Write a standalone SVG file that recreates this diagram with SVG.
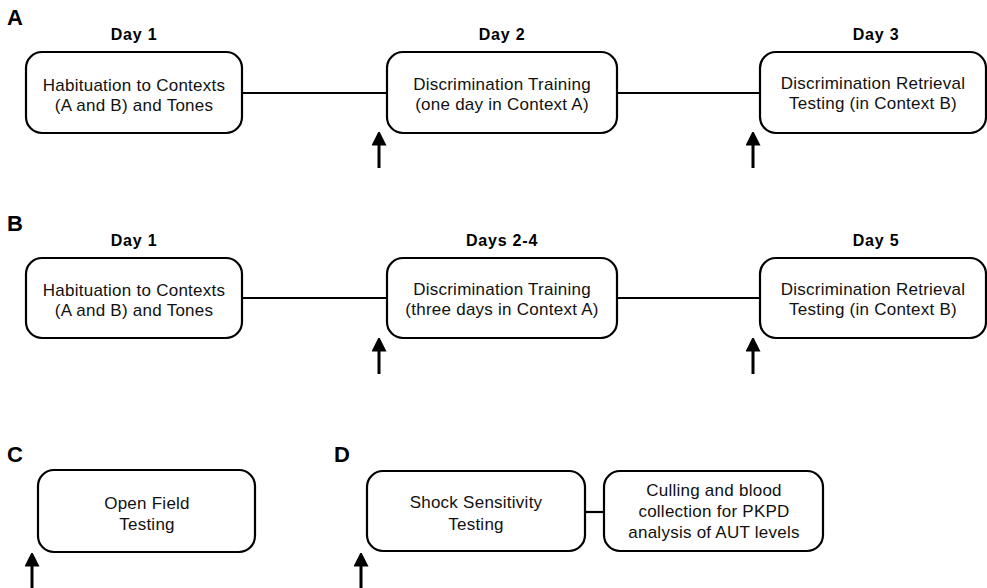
<svg xmlns="http://www.w3.org/2000/svg" width="987" height="588" viewBox="0 0 987 588">
<defs>
<style>
.box{fill:#fff;stroke:#000;stroke-width:2.2}
.ln{stroke:#000;stroke-width:2.2;fill:none}
.t{font-family:"Liberation Sans",Arial,sans-serif;font-size:17px;letter-spacing:0.25px;text-anchor:middle;fill:#111}
.d{font-family:"Liberation Sans",Arial,sans-serif;font-size:16px;letter-spacing:0.8px;font-weight:bold;text-anchor:middle;fill:#000}
.p{font-family:"Liberation Sans",Arial,sans-serif;font-size:22px;letter-spacing:0.5px;font-weight:bold;fill:#000}
.ar{stroke:#000;stroke-width:3;fill:none}
</style>
<marker id="ah" markerWidth="4.5" markerHeight="5" refX="0.5" refY="2.5" orient="auto" markerUnits="strokeWidth">
<path d="M0,0 L5,2.5 L0,5 Z" fill="#000"/>
</marker>
</defs>
<rect width="987" height="588" fill="#fff"/>

<text class="p" x="7" y="25">A</text>
<text class="p" x="7" y="231">B</text>
<text class="p" x="7" y="462">C</text>
<text class="p" x="334" y="462">D</text>

<text class="d" x="134" y="40">Day 1</text>
<text class="d" x="502" y="40">Day 2</text>
<text class="d" x="876" y="40">Day 3</text>
<text class="d" x="134" y="246">Day 1</text>
<text class="d" x="502" y="246">Days 2-4</text>
<text class="d" x="876" y="246">Day 5</text>

<g id="connectors">
<line class="ln" x1="242" y1="93" x2="387" y2="93"/>
<line class="ln" x1="617" y1="93" x2="760" y2="93"/>
<line class="ln" x1="242" y1="298" x2="387" y2="298"/>
<line class="ln" x1="617" y1="298" x2="760" y2="298"/>
<line class="ln" x1="585" y1="512" x2="604" y2="512"/>
<line class="ar" x1="379" y1="168" x2="379" y2="144" marker-end="url(#ah)"/>
<line class="ar" x1="753" y1="168" x2="753" y2="144" marker-end="url(#ah)"/>
<line class="ar" x1="379" y1="374" x2="379" y2="350" marker-end="url(#ah)"/>
<line class="ar" x1="753" y1="374" x2="753" y2="350" marker-end="url(#ah)"/>
<line class="ar" x1="32" y1="588" x2="32" y2="565" marker-end="url(#ah)"/>
<line class="ar" x1="361" y1="588" x2="361" y2="565" marker-end="url(#ah)"/>
</g>

<g id="a1"><rect class="box" x="26" y="52" width="216" height="81" rx="16"/>
<text class="t" x="134" y="91">Habituation to Contexts</text><text class="t" x="134" y="111">(A and B) and Tones</text></g>
<g id="a2"><rect class="box" x="387" y="52" width="230" height="81" rx="16"/>
<text class="t" x="502" y="90">Discrimination Training</text><text class="t" x="502" y="110">(one day in Context A)</text></g>
<g id="a3"><rect class="box" x="760" y="52" width="226" height="81" rx="16"/>
<text class="t" x="873" y="89">Discrimination Retrieval</text><text class="t" x="873" y="109">Testing (in Context B)</text></g>

<g id="b1"><rect class="box" x="26" y="258" width="216" height="80" rx="16"/>
<text class="t" x="134" y="296">Habituation to Contexts</text><text class="t" x="134" y="316">(A and B) and Tones</text></g>
<g id="b2"><rect class="box" x="387" y="258" width="230" height="80" rx="16"/>
<text class="t" x="502" y="295">Discrimination Training</text><text class="t" x="502" y="315">(three days in Context A)</text></g>
<g id="b3"><rect class="box" x="760" y="258" width="226" height="80" rx="16"/>
<text class="t" x="873" y="295">Discrimination Retrieval</text><text class="t" x="873" y="315">Testing (in Context B)</text></g>

<g id="c1"><rect class="box" x="38" y="470" width="217" height="82" rx="16"/>
<text class="t" x="147" y="509">Open Field</text><text class="t" x="147" y="530">Testing</text></g>
<g id="d1"><rect class="box" x="367" y="471" width="218" height="80" rx="16"/>
<text class="t" x="476" y="508">Shock Sensitivity</text><text class="t" x="476" y="530">Testing</text></g>
<g id="d2"><rect class="box" x="604" y="471" width="219" height="80" rx="16"/>
<text class="t" x="714" y="496">Culling and blood</text><text class="t" x="714" y="517">collection for PKPD</text><text class="t" x="714" y="538">analysis of AUT levels</text></g>
</svg>
